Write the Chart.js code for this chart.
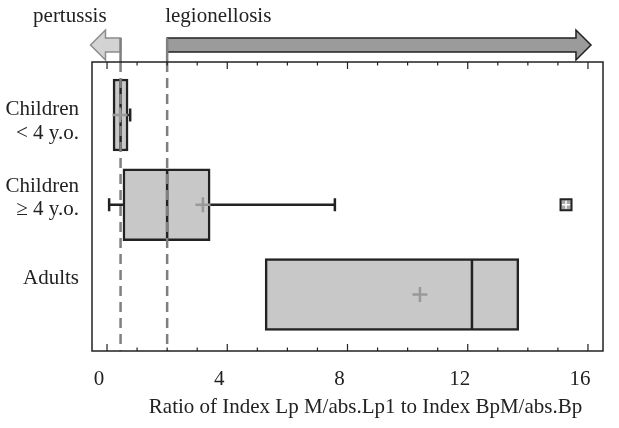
<!DOCTYPE html>
<html>
<head>
<meta charset="utf-8">
<script src="https://cdn.jsdelivr.net/npm/chart.js@4.4.1/dist/chart.umd.min.js"></script>
<style>
  html, body { margin: 0; padding: 0; background: #fff; }
  canvas { display: block; }
</style>
</head>
<body>
<canvas id="ratioChart" width="619" height="428"></canvas>
<script>
// groups, one box per row
const rowLabels   = [['Children', '< 4 y.o.'], ['Children', '\u2265 4 y.o.'], ['Adults']];
const whiskerLow  = [0.20, 0.07, 5.26];
const q1          = [0.20, 0.53, 5.26];
const medians     = [0.45, 2.00, 12.14];
const q3          = [0.70, 3.43, 13.70];
const whiskerHigh = [0.77, 7.58, 13.70];
const means       = [0.43, 3.19, 10.41];
const outliers    = [[], [15.27], []];

// diagnostic cut-offs and the zones they point to
const cutoffs    = [0.45, 2.0];
const zoneNames  = ['pertussis', 'legionellosis'];
const zoneEnds   = [-0.55, 16.1];

const xTickLabels = [0, 4, 8, 12, 16];
const axisTitle   = 'Ratio of Index Lp M/abs.Lp1 to Index BpM/abs.Bp';

const FONT = 'Liberation Serif, Times New Roman, serif';
const INK  = '#222222';

const font = (size) => size + 'px ' + FONT;

const extras = {
    id: 'extras',
    afterDatasetsDraw(chart) {
        const ctx = chart.ctx;
        const a = chart.chartArea;
        const x = chart.scales.x;
        const y = chart.scales.y;

        ctx.save();

        // medians
        ctx.strokeStyle = INK;
        ctx.lineWidth = 2.5;
        medians.forEach((m, i) => {
            const yc = y.getPixelForValue(i + 1);
            ctx.beginPath();
            ctx.moveTo(x.getPixelForValue(m), yc - 35);
            ctx.lineTo(x.getPixelForValue(m), yc + 35);
            ctx.stroke();
        });

        // whiskers + caps
        const whisker = (from, to, yc) => {
            if (Math.abs(from - to) < 1e-6) return;
            const x0 = x.getPixelForValue(from);
            const x1 = x.getPixelForValue(to);
            ctx.beginPath();
            ctx.moveTo(x0, yc);
            ctx.lineTo(x1, yc);
            ctx.moveTo(x1, yc - 6.5);
            ctx.lineTo(x1, yc + 6.5);
            ctx.stroke();
        };
        rowLabels.forEach((_, i) => {
            const yc = y.getPixelForValue(i + 1);
            whisker(q1[i], whiskerLow[i], yc);
            whisker(q3[i], whiskerHigh[i], yc);
        });

        // outliers
        outliers.forEach((list, i) => {
            const yc = y.getPixelForValue(i + 1);
            list.forEach(v => {
                const xc = x.getPixelForValue(v);
                ctx.fillStyle = '#a8a8a8';
                ctx.fillRect(xc - 5.5, yc - 5.5, 11, 11);
                ctx.strokeStyle = INK;
                ctx.lineWidth = 2;
                ctx.strokeRect(xc - 5.5, yc - 5.5, 11, 11);
                ctx.strokeStyle = '#ffffff';
                ctx.lineWidth = 1.5;
                ctx.beginPath();
                ctx.moveTo(xc - 4, yc); ctx.lineTo(xc + 4, yc);
                ctx.moveTo(xc, yc - 4); ctx.lineTo(xc, yc + 4);
                ctx.stroke();
            });
        });

        // zone arrows above the frame
        const arrow = (from, to, fill, stroke) => {
            const x0 = x.getPixelForValue(from);
            const x1 = x.getPixelForValue(to);
            const dir = Math.sign(x1 - x0);
            const hx = x1 - dir * 15;
            const yc = 45;
            ctx.beginPath();
            ctx.moveTo(x0, yc - 7);
            ctx.lineTo(hx, yc - 7);
            ctx.lineTo(hx, yc - 15);
            ctx.lineTo(x1, yc);
            ctx.lineTo(hx, yc + 15);
            ctx.lineTo(hx, yc + 7);
            ctx.lineTo(x0, yc + 7);
            ctx.closePath();
            ctx.fillStyle = fill;
            ctx.fill();
            ctx.strokeStyle = stroke;
            ctx.lineWidth = 1.5;
            ctx.stroke();
        };
        arrow(cutoffs[0], zoneEnds[0], '#d3d3d3', '#8c8c8c');
        arrow(cutoffs[1], zoneEnds[1], '#9b9b9b', INK);

        // cut-off lines
        ctx.strokeStyle = '#7f7f7f';
        ctx.lineWidth = 2.5;
        cutoffs.forEach(c => {
            const xc = x.getPixelForValue(c);
            ctx.setLineDash([]);
            ctx.beginPath();
            ctx.moveTo(xc, 38);
            ctx.lineTo(xc, a.top);
            ctx.stroke();
            ctx.setLineDash([10, 6]);
            ctx.beginPath();
            ctx.moveTo(xc, a.top);
            ctx.lineTo(xc, a.bottom);
            ctx.stroke();
        });
        ctx.setLineDash([]);

        // means
        ctx.strokeStyle = '#999999';
        ctx.lineWidth = 2.5;
        means.forEach((m, i) => {
            const xc = x.getPixelForValue(m);
            const yc = y.getPixelForValue(i + 1);
            ctx.beginPath();
            ctx.moveTo(xc - 7.5, yc); ctx.lineTo(xc + 7.5, yc);
            ctx.moveTo(xc, yc - 7.5); ctx.lineTo(xc, yc + 7.5);
            ctx.stroke();
        });

        // frame and inner ticks
        ctx.strokeStyle = INK;
        ctx.lineWidth = 1.5;
        ctx.strokeRect(a.left, a.top, a.right - a.left, a.bottom - a.top);
        ctx.lineWidth = 1.2;
        for (let v = Math.ceil(x.min); v <= Math.floor(x.max); v++) {
            const xc = x.getPixelForValue(v);
            const len = xTickLabels.includes(v) ? 7 : 3.5;
            ctx.beginPath();
            ctx.moveTo(xc, a.bottom); ctx.lineTo(xc, a.bottom - len);
            ctx.moveTo(xc, a.top);    ctx.lineTo(xc, a.top + len);
            ctx.stroke();
        }

        // zone names
        ctx.fillStyle = INK;
        ctx.font = font(21);
        ctx.textBaseline = 'alphabetic';
        ctx.textAlign = 'right';
        ctx.fillText(zoneNames[0], x.getPixelForValue(cutoffs[0]) - 14, 22);
        ctx.textAlign = 'left';
        ctx.fillText(zoneNames[1], x.getPixelForValue(cutoffs[1]) - 2, 22);

        // axis title
        ctx.textAlign = 'center';
        ctx.textBaseline = 'middle';
        ctx.fillText(axisTitle, (a.left + a.right) / 2 + 18, 407);

        ctx.restore();
    }
};

// labels sit a little off the box centres in the original
const labelNudge = [0.072, -0.072, -0.175];

new Chart(document.getElementById('ratioChart'), {
    type: 'bar',
    data: {
        datasets: [{
            data: rowLabels.map((_, i) => ({ x: [q1[i], q3[i]], y: i + 1 })),
            backgroundColor: '#c8c8c8',
            borderColor: INK,
            borderWidth: 2.5,
            borderSkipped: false,
            barThickness: 72
        }]
    },
    options: {
        indexAxis: 'y',
        responsive: false,
        animation: false,
        devicePixelRatio: 1,
        layout: { padding: { top: 62, right: 16, left: 0, bottom: 0 } },
        scales: {
            x: {
                type: 'linear',
                min: -0.5,
                max: 16.5,
                grid: { display: false },
                border: { display: false },
                afterBuildTicks: (scale) => {
                    scale.ticks = xTickLabels.map(v => ({ value: v }));
                },
                afterFit: (scale) => { scale.height = 77; },
                ticks: {
                    autoSkip: false,
                    maxRotation: 0,
                    padding: 8,
                    labelOffset: -8,
                    color: INK,
                    font: { family: FONT, size: 21 },
                    callback: (v) => String(v)
                }
            },
            y: {
                type: 'linear',
                reverse: true,
                offset: false,
                bounds: 'data',
                min: 0.409,
                max: 3.63,
                grid: { display: false, offset: false },
                border: { display: false },
                afterBuildTicks: (scale) => {
                    scale.ticks = rowLabels.map((_, i) => ({ value: i + 1 + labelNudge[i] }));
                },
                afterFit: (scale) => { scale.width = 92; },
                ticks: {
                    autoSkip: false,
                    padding: 5,
                    color: INK,
                    font: { family: FONT, size: 21, lineHeight: 1.1 },
                    callback: (v, i) => rowLabels[i]
                }
            }
        },
        plugins: {
            legend: { display: false },
            tooltip: { enabled: false }
        }
    },
    plugins: [extras]
});
</script>
</body>
</html>
